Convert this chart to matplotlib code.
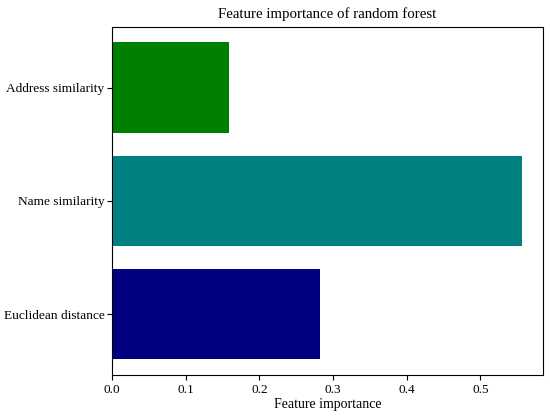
import matplotlib
matplotlib.use("Agg")
import matplotlib.pyplot as plt

plt.rcParams['font.family'] = ['Liberation Serif', 'DejaVu Serif']

features = ['Euclidean distance', 'Name similarity', 'Address similarity']
importance = [0.282, 0.557, 0.159]
colors = ['navy', 'teal', 'green']

fig = plt.figure(figsize=(5.5, 4.16), dpi=100)
ax = fig.add_axes([0.204, 0.098, 0.783, 0.838])
ax.barh(features, importance, color=colors)
ax.set_title('Feature importance of random forest', fontsize=10.7)
ax.set_xlabel('Feature importance', fontsize=10, labelpad=1)
ax.tick_params(axis='x', labelsize=9.5, pad=3)
ax.tick_params(axis='y', labelsize=9.6, pad=2)
fig.savefig('out.png', dpi=100)
